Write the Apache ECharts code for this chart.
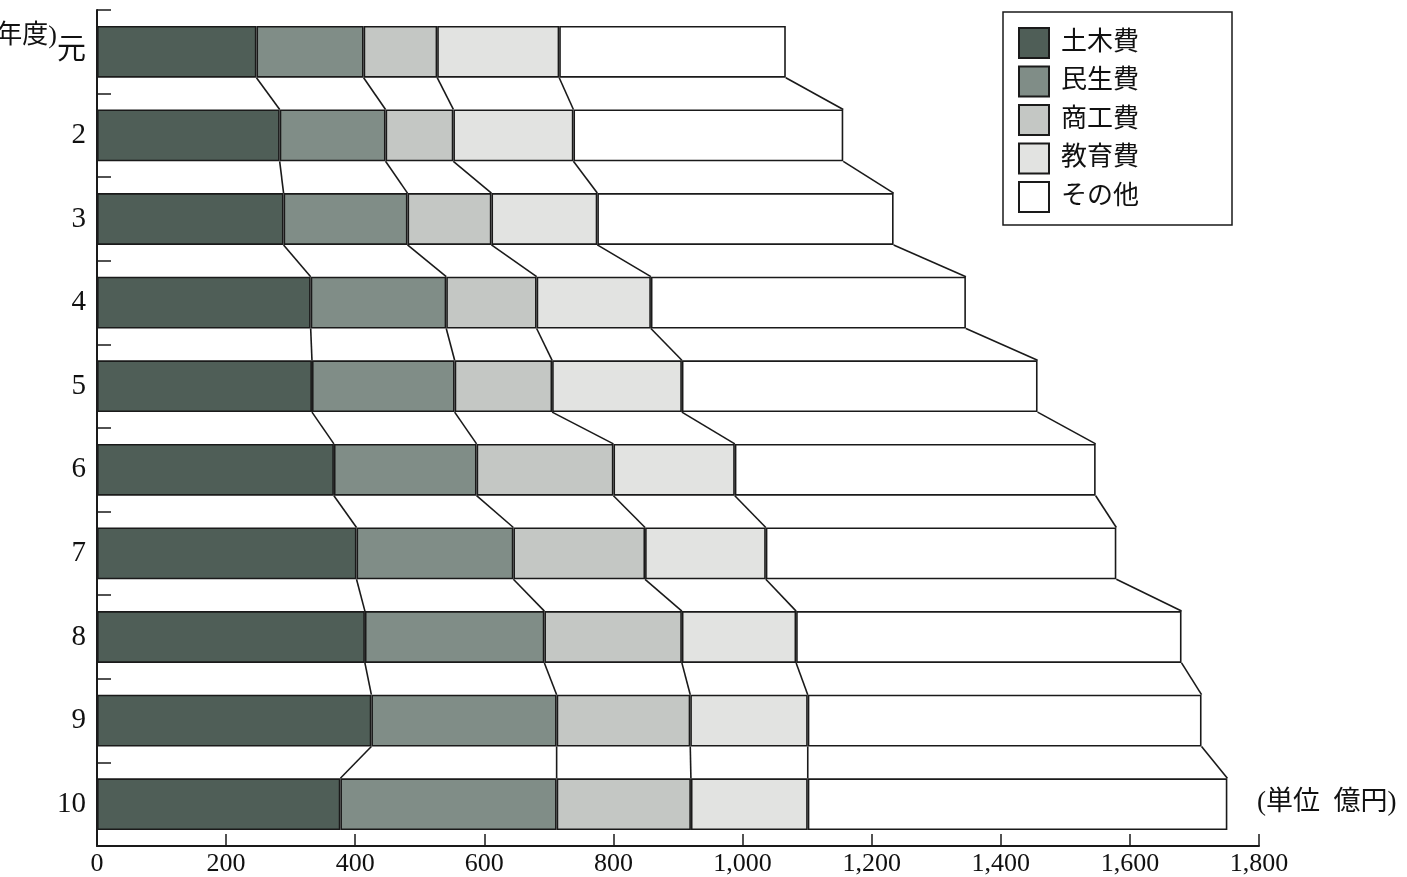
<!DOCTYPE html>
<html>
<head>
<meta charset="utf-8">
<script src="https://cdn.jsdelivr.net/npm/echarts@6/dist/echarts.min.js"></script>
<style>
html,body{margin:0;padding:0;background:#fff;}
#chart{width:1407px;height:877px;}
</style>
</head>
<body>
<div id="chart"></div>
<script>
// Categories (fiscal years, top to bottom)
var years = ['元', '2', '3', '4', '5', '6', '7', '8', '9', '10'];
// Series names
var seriesNames = ['土木費', '民生費', '商工費', '教育費', 'その他'];
// Values (億円)
var doboku  = [247, 283, 289, 331, 333, 367, 402, 415, 425, 377];
var minsei  = [166, 164, 192, 210, 221, 221, 243, 278, 287, 335];
var shoko   = [114, 105, 130, 140, 151, 212, 204, 213, 207, 208];
var kyoiku  = [189, 186, 164, 177, 201, 188, 187, 177, 182, 181];
var sonota  = [351, 418, 459, 488, 551, 559, 543, 597, 610, 650];
// X axis ticks
var xMin = 0, xMax = 1800, xStep = 200;

var allSeries = [doboku, minsei, shoko, kyoiku, sonota];
var colors = ['#4f5e57', '#808d87', '#c4c7c4', '#e2e3e1', '#ffffff'];
var FONT = "'Liberation Serif', 'Noto Sans CJK JP', serif";
var BAR_RATIO = 0.62;

// cumulative boundaries for connectors
var cum = years.map(function (y, i) {
  var s = 0, out = [];
  allSeries.forEach(function (arr) { s += arr[i]; out.push(s); });
  return out;
});
var connectorData = [];
for (var i = 0; i < years.length - 1; i++) {
  for (var k = 0; k < allSeries.length; k++) {
    connectorData.push([cum[i][k], i, cum[i + 1][k], i + 1]);
  }
}

var chart = echarts.init(document.getElementById('chart'), null, {renderer: 'canvas'});

var series = seriesNames.map(function (name, idx) {
  return {
    name: name,
    type: 'bar',
    stack: 'total',
    barWidth: (BAR_RATIO * 100) + '%',
    data: allSeries[idx],
    itemStyle: {color: colors[idx], borderColor: '#1a1a1a', borderWidth: 1.6},
    emphasis: {disabled: true},
    z: 3
  };
});

series.push({
  type: 'custom',
  name: 'connector',
  data: connectorData,
  encode: {x: [0, 2], y: [1, 3]},
  silent: true,
  z: 2,
  renderItem: function (params, api) {
    var p1 = api.coord([api.value(0), api.value(1)]);
    var p2 = api.coord([api.value(2), api.value(3)]);
    var band = api.size([0, 1])[1];
    var half = band * BAR_RATIO / 2;
    return {
      type: 'line',
      shape: {x1: p1[0], y1: p1[1] + half, x2: p2[0], y2: p2[1] - half},
      style: {stroke: '#1a1a1a', lineWidth: 1.6}
    };
  }
});

chart.setOption({
  animation: false,
  backgroundColor: '#ffffff',
  grid: {left: 97, right: 148, top: 10, bottom: 29, containLabel: false},
  legend: {
    data: seriesNames,
    orient: 'vertical',
    left: 1003,
    top: 12,
    itemWidth: 30,
    itemHeight: 30,
    itemGap: 6.5,
    icon: 'rect',
    padding: [15, 93, 12, 15],
    borderColor: '#1a1a1a',
    borderWidth: 1.5,
    backgroundColor: '#ffffff',
    selectedMode: false,
    textStyle: {fontFamily: FONT, fontSize: 26, lineHeight: 30, color: '#111', padding: [0, 0, 0, 7]}
  },
  xAxis: {
    type: 'value',
    min: xMin,
    max: xMax,
    interval: xStep,
    splitLine: {show: false},
    axisLine: {show: true, lineStyle: {color: '#1a1a1a', width: 2}},
    axisTick: {show: true, inside: true, length: 12, lineStyle: {color: '#1a1a1a', width: 1.5}},
    axisLabel: {
      fontFamily: FONT, fontSize: 26, color: '#111', margin: 5,
      formatter: function (v) { return v.toLocaleString('en-US'); }
    }
  },
  yAxis: {
    type: 'category',
    data: years,
    inverse: true,
    axisLine: {show: true, lineStyle: {color: '#1a1a1a', width: 2}},
    axisTick: {show: true, inside: true, length: 14, lineStyle: {color: '#1a1a1a', width: 1.5}},
    axisLabel: {fontFamily: FONT, fontSize: 29, color: '#111', margin: 11}
  },
  graphic: [
    {
      type: 'text', right: 1407 - 57, top: 23,
      style: {text: '(年度)', fontFamily: FONT, fontSize: 26, fill: '#111'}
    },
    {
      type: 'text', left: 1257, top: 789,
      style: {text: '(単位  億円)', fontFamily: FONT, fontSize: 27, fill: '#111'}
    }
  ],
  series: series
});
</script>
</body>
</html>
